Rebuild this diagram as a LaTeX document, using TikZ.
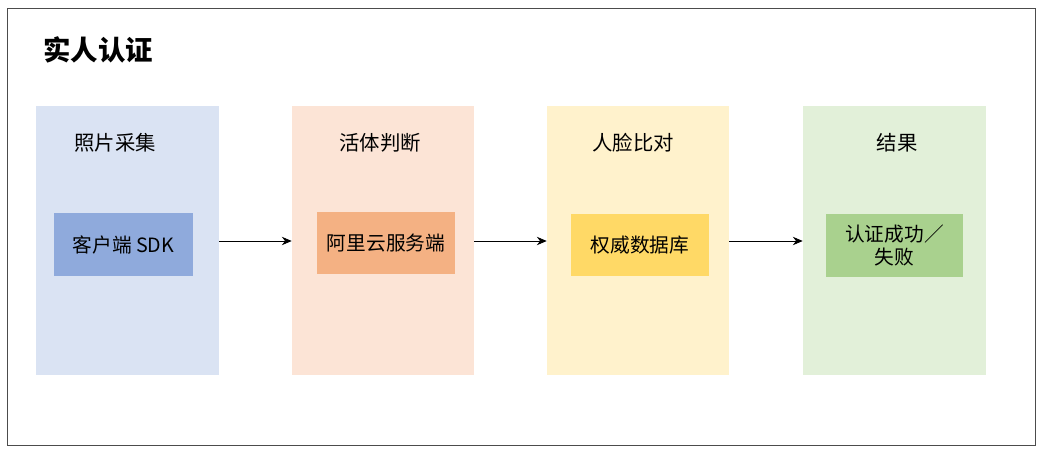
\documentclass[tikz,border=0pt]{standalone}
\usepackage{fontspec}
\setmainfont{Noto Sans CJK SC}
\usetikzlibrary{arrows.meta}
\definecolor{colA}{HTML}{DAE3F3}
\definecolor{colB}{HTML}{FCE4D6}
\definecolor{colC}{HTML}{FFF2CC}
\definecolor{colD}{HTML}{E2F0D9}
\definecolor{boxA}{HTML}{8FAADC}
\definecolor{boxB}{HTML}{F4B183}
\definecolor{boxC}{HTML}{FFD966}
\definecolor{boxD}{HTML}{A9D18E}
\tikzset{
  stage/.style={fill=#1, draw=none, minimum height=6.725cm, inner sep=0pt},
  inbox/.style={fill=#1, draw=none, minimum width=3.45cm, minimum height=1.55cm,
    inner sep=0pt, align=center, font=\fontsize{14}{17}\selectfont},
  head/.style={font=\fontsize{14.5}{17}\selectfont},
  flow/.style={-{Stealth[length=7pt,width=6pt]}, line width=0.6pt}
}
\begin{document}
\begin{tikzpicture}[x=0.025cm,y=-0.025cm]
  \useasboundingbox (0,0) rectangle (1040,451);
  \draw[black!70, line width=0.5pt] (7,8) rectangle (1035,445);
  \node[font=\fontsize{19.5}{22}\selectfont\bfseries] (title) at (98,50) {实人认证};
  % stages
  \node[stage=colA, minimum width=4.575cm] (s1) at (127.5,240.5) {};
  \node[stage=colB, minimum width=4.55cm] (s2) at (383,240.5) {};
  \node[stage=colC, minimum width=4.55cm] (s3) at (638,240.5) {};
  \node[stage=colD, minimum width=4.575cm] (s4) at (894.5,240.5) {};
  \node[head] (h1) at (115,143) {照片采集};
  \node[head] (h2) at (380,143) {活体判断};
  \node[head] (h3) at (633,143) {人脸比对};
  \node[head] (h4) at (897,143) {结果};
  % boxes
  \node[inbox=boxA, minimum width=3.475cm, minimum height=1.575cm] (b1) at (123.5,244.5) {客户端 SDK};
  \node[inbox=boxB] (b2) at (386,243) {阿里云服务端};
  \node[inbox=boxC] (b3) at (640,245) {权威数据库};
  \node[inbox=boxD, minimum width=3.425cm] (b4) at (894.5,245.5) {认证成功／\\失败};
  % arrows
  \draw[flow] (s1.east |- 0,241) -- (s2.west |- 0,241);
  \draw[flow] (s2.east |- 0,241) -- (s3.west |- 0,241);
  \draw[flow] (s3.east |- 0,241) -- (s4.west |- 0,241);
\end{tikzpicture}
\end{document}
